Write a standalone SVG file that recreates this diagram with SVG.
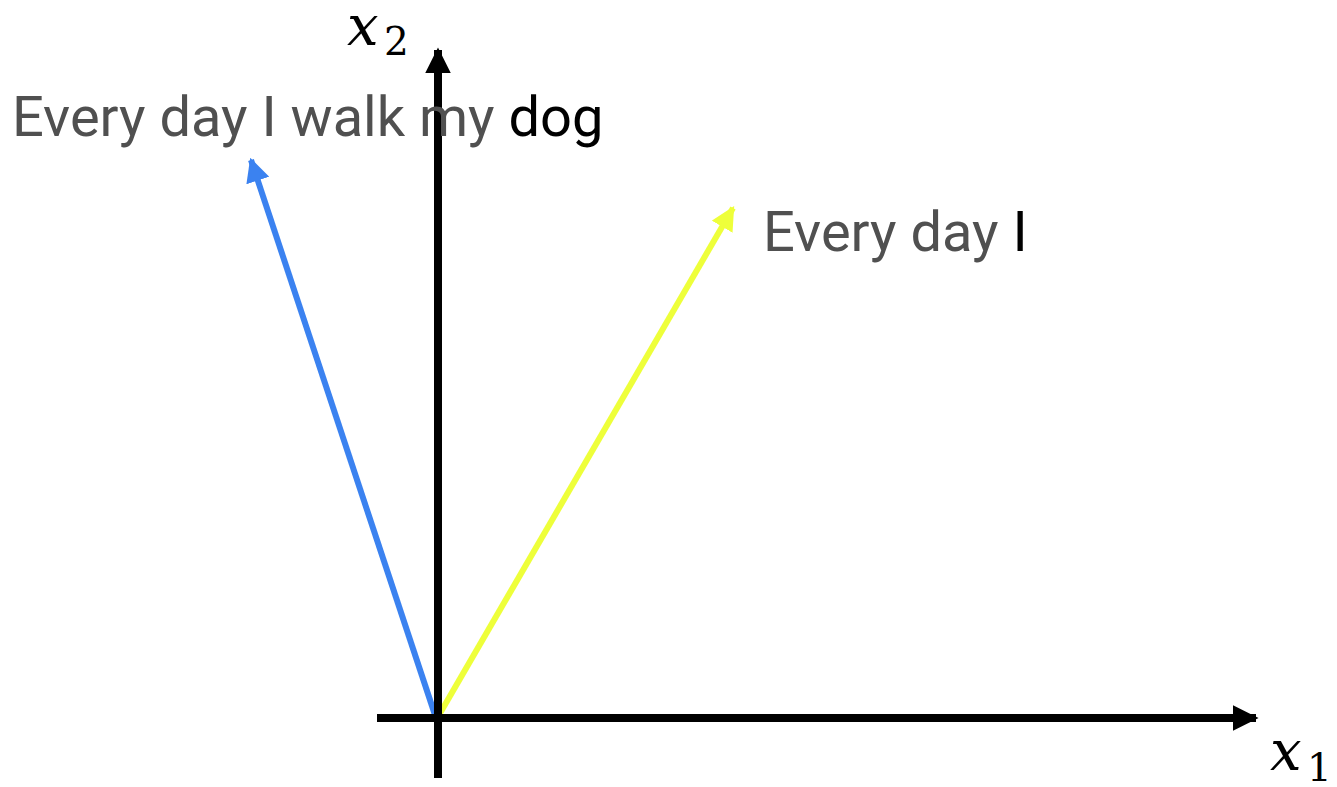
<svg xmlns="http://www.w3.org/2000/svg" width="1337" height="787" viewBox="0 0 1337 787">
<style>
.lbl{font-family:Roboto,"Liberation Sans",sans-serif;font-size:56px;fill:#505050}
.blk{fill:#000}
.mx{font-family:"DejaVu Serif",serif;font-style:italic;font-size:56px;fill:#000}
.sub{font-family:"DejaVu Serif",serif;font-size:39px;fill:#000}
</style>
<defs>
<marker id="ah" viewBox="0 0 10 10" refX="9" refY="5" markerWidth="3.2" markerHeight="3.2" orient="auto" markerUnits="strokeWidth"><path d="M0,0 L10,5 L0,10 z" fill="#000"/></marker>
<marker id="ahb" viewBox="0 0 10 10" refX="9" refY="5" markerWidth="4" markerHeight="4" orient="auto" markerUnits="strokeWidth"><path d="M0,0 L10,5 L0,10 z" fill="#3b82f0"/></marker>
<marker id="ahy" viewBox="0 0 10 10" refX="9" refY="5" markerWidth="4" markerHeight="4" orient="auto" markerUnits="strokeWidth"><path d="M0,0 L10,5 L0,10 z" fill="#eeff3a"/></marker>
</defs>
<g id="connectors">
<line x1="435" y1="715" x2="251" y2="160" stroke="#3b82f0" stroke-width="6" marker-end="url(#ahb)"/>
<line x1="439" y1="715" x2="733" y2="208" stroke="#eeff3a" stroke-width="6" marker-end="url(#ahy)"/>
<line x1="438" y1="778" x2="438" y2="50" stroke="#000" stroke-width="8" marker-end="url(#ah)"/>
<line x1="377" y1="718" x2="1256" y2="718" stroke="#000" stroke-width="8" marker-end="url(#ah)"/>
</g>
<g id="label-long"><text class="lbl" x="12" y="136">Every day I walk my <tspan class="blk">dog</tspan></text></g>
<g id="label-short"><text class="lbl" x="763" y="251">Every day <tspan class="blk">I</tspan></text></g>
<g id="axis-x2"><text class="mx" x="347" y="45">x</text><text class="sub" x="384" y="55">2</text></g>
<g id="axis-x1"><text class="mx" x="1270" y="770">x</text><text class="sub" x="1307" y="781">1</text></g>
</svg>
